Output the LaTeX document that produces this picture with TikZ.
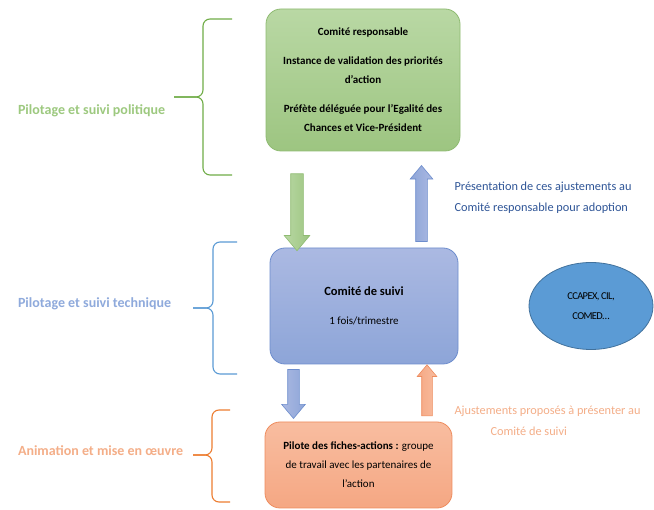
\documentclass[tikz,border=0pt]{standalone}
\usepackage{fontspec}
\setmainfont{Carlito}
\usetikzlibrary{shapes.geometric,shapes.arrows,positioning}

\definecolor{gtop}{HTML}{B9D8A4}
\definecolor{gbot}{HTML}{9DC581}
\definecolor{gline}{HTML}{8FBB72}
\definecolor{gbrace}{HTML}{70AD47}
\definecolor{glab}{HTML}{9DC97F}
\definecolor{btop}{HTML}{ABB9E2}
\definecolor{bbot}{HTML}{8DA5D8}
\definecolor{bline}{HTML}{6D8DCD}
\definecolor{bbrace}{HTML}{5B9BD5}
\definecolor{blab}{HTML}{8FAADC}
\definecolor{otop}{HTML}{F8BDA0}
\definecolor{obot}{HTML}{F5A783}
\definecolor{oline}{HTML}{EE8C5E}
\definecolor{obrace}{HTML}{ED7D31}
\definecolor{olab}{HTML}{F4AE88}
\definecolor{ell}{HTML}{5B9BD5}
\definecolor{ellline}{HTML}{41719C}
\definecolor{navy}{HTML}{2F5597}

% accolade: colour, x right, x vertical, x tip, y top, y tip, y bottom, name of tip
\newcommand{\accolade}[8]{%
  \draw[#1,line width=1.1pt,rounded corners=7pt] (#2,#5) -- (#3,#5) -- (#3,#6) -- (#4,#6);
  \draw[#1,line width=1.1pt,rounded corners=7pt] (#4,#6) -- (#3,#6) -- (#3,#7) -- (#2,#7);
  \coordinate (#8) at (#4,#6);
}

\tikzset{
  boite/.style={rectangle,rounded corners=15pt,line width=0.8pt,align=center,
    font=\fontsize{11}{19}\selectfont},
  bloc/.style={single arrow,single arrow tip angle=80,line width=0.6pt},
  etiq/.style={anchor=west,font=\fontsize{14}{16}\selectfont\bfseries},
  note/.style={font=\fontsize{12.3}{21}\selectfont},
}

\begin{document}
\begin{tikzpicture}[x=1pt,y=-1pt]
\fill[white] (0,0) rectangle (654,510);
\useasboundingbox (0,0) rectangle (654,510);
%
% boxes
\node (resp) at (363,80) [boite,minimum width=194pt,minimum height=142pt,
  draw=gline,top color=gtop,bottom color=gbot]
  {\bfseries Comité responsable\\[10pt]
   \bfseries Instance de validation des priorités\\ \bfseries d’action\\[10pt]
   \bfseries Préfète déléguée pour l’Egalité des\\ \bfseries Chances et Vice-Président};
\node (suivi) at (364,306) [boite,minimum width=188pt,minimum height=116pt,
  draw=bline,top color=btop,bottom color=bbot]
  {{\fontsize{12.5}{19}\selectfont\bfseries Comité de suivi}\\[10pt] 1 fois/trimestre};
\node (pilote) at (358.5,465) [boite,minimum width=187pt,minimum height=86pt,
  draw=oline,top color=otop,bottom color=obot]
  {\textbf{Pilote des fiches-actions :} groupe\\ de travail avec les partenaires de\\ l’action};
\node (autres) at (591,306) [ellipse,minimum width=124pt,minimum height=87pt,
  fill=ell,draw=ellline,line width=0.8pt,align=center,
  font=\fontsize{10.5}{20}\selectfont\addfontfeatures{LetterSpace=-6}]
  {CCAPEX, CIL,\\ COMED…};
%
% block arrows
\node (f1) at (297,208.5) [bloc,rotate=-90,minimum height=77pt,inner sep=6pt,
  single arrow head extend=6.5pt,draw=gline,left color=gtop,right color=gbot] {};
\node (f2) at (421.5,207) [bloc,rotate=90,minimum height=76pt,inner sep=5.5pt,
  single arrow head extend=5.5pt,draw=bline,right color=btop,left color=bbot] {};
\node (f3) at (293.5,390.5) [bloc,rotate=-90,minimum height=49pt,inner sep=5.5pt,
  single arrow head extend=6pt,draw=bline,left color=btop,right color=bbot] {};
\node (f4) at (427,393.5) [bloc,rotate=90,minimum height=51pt,inner sep=5pt,
  single arrow head extend=4.5pt,draw=oline,right color=otop,left color=obot] {};
%
% braces and labels
\accolade{gbrace}{232}{203}{174}{19}{97}{175}{t1}
\accolade{bbrace}{237}{213}{193}{242}{308}{374}{t2}
\accolade{obrace}{230}{212}{193}{410}{455}{502}{t3}
\node (l1) at (14.5,111) [etiq,text=glab] {Pilotage et suivi politique};
\node (l2) at (14.5,304) [etiq,text=blab] {Pilotage et suivi technique};
\node (l3) at (14.5,451) [etiq,text=olab] {Animation et mise en œuvre};
%
% notes
\node (n1) at (451,197.5) [note,anchor=west,align=left,text=navy]
  {Présentation de ces ajustements au\\ Comité responsable pour adoption};
\node (n2) at (451,420.5) [note,anchor=west,align=left,text=olab]
  {Ajustements proposés à présenter au\\ \hspace*{36pt}Comité de suivi};
\end{tikzpicture}
\end{document}
